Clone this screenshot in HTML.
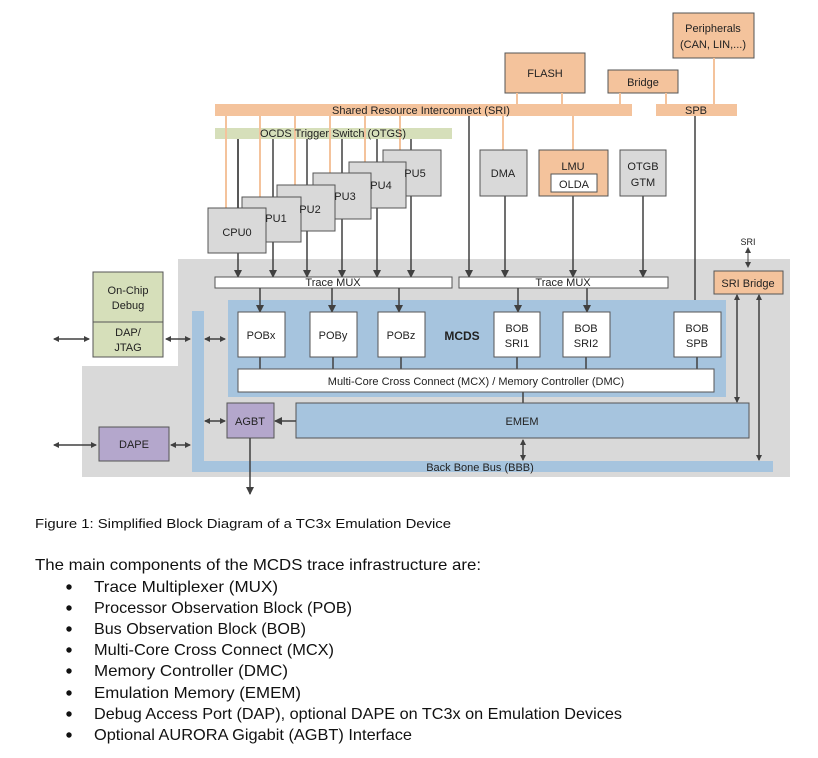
<!DOCTYPE html>
<html><head><meta charset="utf-8"><style>html,body{margin:0;padding:0;background:#fff}svg{display:block}</style></head><body>
<svg width="818" height="758" viewBox="0 0 818 758" xmlns="http://www.w3.org/2000/svg" font-family="Liberation Sans, sans-serif">
<defs>
<marker id="a" markerWidth="8" markerHeight="8" refX="7" refY="4" orient="auto" markerUnits="userSpaceOnUse"><path d="M0,0 L8,4 L0,8 z" fill="#404040"/></marker>
<marker id="s" markerWidth="6" markerHeight="6" refX="5" refY="3" orient="auto-start-reverse" markerUnits="userSpaceOnUse"><path d="M0,0 L6,3 L0,6 z" fill="#404040"/></marker>
</defs>
<!-- gray area -->
<polygon points="178,259 790,259 790,477 82,477 82,366 178,366" fill="#d9d9d9"/>
<!-- orange top boxes -->
<g fill="#f4c39c" stroke="#555" stroke-width="1">
<rect x="673" y="13" width="81" height="45"/>
<rect x="505" y="53" width="80" height="40"/>
<rect x="608" y="70" width="70" height="23"/>
</g>
<g stroke="#f4c39c" stroke-width="2">
<line x1="517" y1="93" x2="517" y2="104"/><line x1="562" y1="93" x2="562" y2="104"/>
<line x1="620" y1="93" x2="620" y2="104"/><line x1="666" y1="93" x2="666" y2="104"/>
<line x1="714" y1="58" x2="714" y2="104"/>
</g>
<rect x="215" y="104" width="417" height="12" fill="#f4c39c"/>
<rect x="656" y="104" width="81" height="12" fill="#f4c39c"/>
<rect x="215" y="128" width="237" height="11" fill="#d6dfba"/>
<!-- orange drops to CPUs -->
<g stroke="#f4c39c" stroke-width="2">
<line x1="226" y1="116" x2="226" y2="208"/><line x1="260" y1="116" x2="260" y2="197"/>
<line x1="295" y1="116" x2="295" y2="185"/><line x1="330" y1="116" x2="330" y2="173"/>
<line x1="365" y1="116" x2="365" y2="162"/><line x1="400" y1="116" x2="400" y2="150"/>
<line x1="503" y1="116" x2="503" y2="150"/><line x1="573" y1="116" x2="573" y2="150"/>
</g>
<!-- dark lines into trace mux -->
<g stroke="#404040" stroke-width="1.5" marker-end="url(#a)">
<line x1="238" y1="139" x2="238" y2="277"/><line x1="273" y1="139" x2="273" y2="277"/>
<line x1="307" y1="139" x2="307" y2="277"/><line x1="342" y1="139" x2="342" y2="277"/>
<line x1="377" y1="139" x2="377" y2="277"/><line x1="411" y1="139" x2="411" y2="277"/>
<line x1="469" y1="116" x2="469" y2="277"/><line x1="505" y1="196" x2="505" y2="277"/>
<line x1="573" y1="196" x2="573" y2="277"/><line x1="643" y1="196" x2="643" y2="277"/>
<line x1="695" y1="116" x2="695" y2="312"/>
</g>
<!-- CPUs -->
<g fill="#d9d9d9" stroke="#555" stroke-width="1">
<rect x="383" y="150" width="58" height="46"/>
<rect x="349" y="162" width="57" height="46"/>
<rect x="313" y="173" width="58" height="46"/>
<rect x="277" y="185" width="58" height="46"/>
<rect x="242" y="197" width="59" height="45"/>
<rect x="208" y="208" width="58" height="45"/>
<rect x="480" y="150" width="47" height="46"/>
<rect x="620" y="150" width="46" height="46"/>
</g>
<rect x="539" y="150" width="69" height="46" fill="#f4c39c" stroke="#555"/>
<rect x="551" y="174" width="46" height="18" fill="#fff" stroke="#555"/>
<g stroke="#404040" stroke-width="1.5"><line x1="238" y1="139" x2="238" y2="208"/></g>
<g font-size="11" fill="#222" text-anchor="middle">
<text x="713" y="32">Peripherals</text><text x="713" y="48">(CAN, LIN,...)</text>
<text x="545" y="77">FLASH</text><text x="643" y="86">Bridge</text>
<text x="421" y="114">Shared Resource Interconnect (SRI)</text>
<text x="696" y="114">SPB</text>
<text x="333" y="137">OCDS Trigger Switch (OTGS)</text>
<text x="415" y="177">PU5</text><text x="381" y="189">PU4</text><text x="345" y="200">PU3</text>
<text x="310" y="213">PU2</text><text x="276" y="222">PU1</text><text x="237" y="236">CPU0</text>
<text x="503" y="177">DMA</text><text x="573" y="170">LMU</text><text x="574" y="188">OLDA</text>
<text x="643" y="170">OTGB</text><text x="643" y="186">GTM</text>
<text x="748" y="245" font-size="9">SRI</text>
</g>
<line x1="748" y1="248" x2="748" y2="267" stroke="#404040" marker-start="url(#s)" marker-end="url(#s)"/>
<!-- trace mux -->
<rect x="215" y="277" width="237" height="11" fill="#fff" stroke="#555"/>
<rect x="459" y="277" width="209" height="11" fill="#fff" stroke="#555"/>
<rect x="714" y="271" width="69" height="23" fill="#f4c39c" stroke="#555"/>
<!-- on chip debug -->
<rect x="93" y="272" width="70" height="50" fill="#d6dfba" stroke="#555"/>
<rect x="93" y="322" width="70" height="35" fill="#d6dfba" stroke="#555"/>
<!-- BBB -->
<rect x="192" y="311" width="12" height="161" fill="#a6c4de"/>
<rect x="192" y="461" width="581" height="11" fill="#a6c4de"/>
<!-- MCDS -->
<rect x="228" y="300" width="498" height="97" fill="#a6c4de"/>
<g stroke="#404040" stroke-width="1.5" marker-end="url(#a)">
<line x1="260" y1="288" x2="260" y2="312"/><line x1="332" y1="288" x2="332" y2="312"/>
<line x1="399" y1="288" x2="399" y2="312"/><line x1="518" y1="288" x2="518" y2="312"/>
<line x1="587" y1="288" x2="587" y2="312"/>
</g>
<g stroke="#404040" stroke-width="1.5">
<line x1="260" y1="357" x2="260" y2="369"/><line x1="333" y1="357" x2="333" y2="369"/>
<line x1="401" y1="357" x2="401" y2="369"/><line x1="517" y1="357" x2="517" y2="369"/>
<line x1="586" y1="357" x2="586" y2="369"/><line x1="697" y1="357" x2="697" y2="369"/>
<line x1="523" y1="392" x2="523" y2="403"/>
</g>
<g fill="#fff" stroke="#555">
<rect x="238" y="312" width="47" height="45"/><rect x="310" y="312" width="47" height="45"/>
<rect x="378" y="312" width="47" height="45"/><rect x="494" y="312" width="46" height="45"/>
<rect x="563" y="312" width="47" height="45"/><rect x="674" y="312" width="47" height="45"/>
<rect x="238" y="369" width="476" height="23"/>
</g>
<rect x="296" y="403" width="453" height="35" fill="#a6c4de" stroke="#555"/>
<rect x="227" y="403" width="47" height="35" fill="#b4a7cc" stroke="#555"/>
<rect x="99" y="427" width="70" height="34" fill="#b4a7cc" stroke="#555"/>
<!-- arrows -->
<g stroke="#404040" stroke-width="1.5" marker-start="url(#s)" marker-end="url(#s)">
<line x1="54" y1="339" x2="89" y2="339"/><line x1="166" y1="339" x2="190" y2="339"/>
<line x1="205" y1="339" x2="225" y2="339"/><line x1="205" y1="421" x2="225" y2="421"/>
<line x1="54" y1="445" x2="96" y2="445"/><line x1="171" y1="445" x2="190" y2="445"/>
<line x1="523" y1="440" x2="523" y2="460"/>
<line x1="737" y1="295" x2="737" y2="402"/><line x1="759" y1="295" x2="759" y2="460"/>
</g>
<g stroke="#404040" stroke-width="1.5" marker-end="url(#a)">
<line x1="296" y1="421" x2="275" y2="421"/><line x1="250" y1="438" x2="250" y2="494"/>
</g>
<g font-size="11" fill="#222" text-anchor="middle">
<text x="333" y="286">Trace MUX</text><text x="563" y="286">Trace MUX</text>
<text x="748" y="287">SRI Bridge</text>
<text x="128" y="294">On-Chip</text><text x="128" y="309">Debug</text>
<text x="128" y="336">DAP/</text><text x="128" y="351">JTAG</text>
<text x="261" y="339">POBx</text><text x="333" y="339">POBy</text><text x="401" y="339">POBz</text>
<text x="462" y="340" font-weight="bold" font-size="12">MCDS</text>
<text x="517" y="332">BOB</text><text x="517" y="347">SRI1</text>
<text x="586" y="332">BOB</text><text x="586" y="347">SRI2</text>
<text x="697" y="332">BOB</text><text x="697" y="347">SPB</text>
<text x="476" y="385">Multi-Core Cross Connect (MCX) / Memory Controller (DMC)</text>
<text x="522" y="425">EMEM</text><text x="250" y="425">AGBT</text><text x="134" y="448">DAPE</text>
<text x="480" y="471">Back Bone Bus (BBB)</text>
</g>
<g fill="#111">
<text x="35" y="528" font-size="13" textLength="416" lengthAdjust="spacingAndGlyphs">Figure 1: Simplified Block Diagram of a TC3x Emulation Device</text>
<text x="35" y="570" font-size="16" textLength="446" lengthAdjust="spacingAndGlyphs">The main components of the MCDS trace infrastructure are:</text>
<g font-size="16">
<text x="94" y="592" textLength="184" lengthAdjust="spacingAndGlyphs">Trace Multiplexer (MUX)</text>
<text x="94" y="613" textLength="258" lengthAdjust="spacingAndGlyphs">Processor Observation Block (POB)</text>
<text x="94" y="634" textLength="212" lengthAdjust="spacingAndGlyphs">Bus Observation Block (BOB)</text>
<text x="94" y="655" textLength="240" lengthAdjust="spacingAndGlyphs">Multi-Core Cross Connect (MCX)</text>
<text x="94" y="676" textLength="194" lengthAdjust="spacingAndGlyphs">Memory Controller (DMC)</text>
<text x="94" y="698" textLength="207" lengthAdjust="spacingAndGlyphs">Emulation Memory (EMEM)</text>
<text x="94" y="719" textLength="528" lengthAdjust="spacingAndGlyphs">Debug Access Port (DAP), optional DAPE on TC3x on Emulation Devices</text>
<text x="94" y="740" textLength="318" lengthAdjust="spacingAndGlyphs">Optional AURORA Gigabit (AGBT) Interface</text>
</g>
<g>
<circle cx="69" cy="587" r="2.7"/><circle cx="69" cy="608" r="2.7"/><circle cx="69" cy="629" r="2.7"/>
<circle cx="69" cy="650" r="2.7"/><circle cx="69" cy="671" r="2.7"/><circle cx="69" cy="693" r="2.7"/>
<circle cx="69" cy="714" r="2.7"/><circle cx="69" cy="735" r="2.7"/>
</g>
</g>
</svg>
</body></html>
